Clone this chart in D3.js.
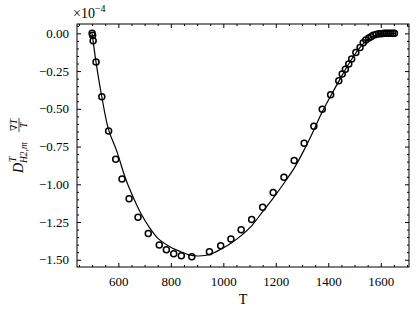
<!DOCTYPE html>
<html>
<head>
<meta charset="utf-8">
<script src="https://cdn.jsdelivr.net/npm/d3@7"></script>
<style>
  body { margin: 0; background: #fff; }
  text { font-family: "Liberation Serif", "DejaVu Serif", serif; fill: #000; }
</style>
</head>
<body>
<div id="chart"></div>
<script>
// simulation points (T, value in 1e-4)
var pointT = [500, 502, 504, 515, 537, 563, 590, 614, 641, 675, 714, 756, 783, 811, 840, 880,
  947, 990, 1029, 1068, 1108, 1150, 1190, 1231, 1270, 1308, 1345, 1377, 1409, 1440, 1453, 1465,
  1478, 1489, 1505, 1521, 1533, 1543, 1554, 1563, 1571, 1582, 1592, 1600, 1608, 1615, 1622,
  1630, 1637, 1645, 1652];
var pointV = [0.00, -0.012, -0.049, -0.19, -0.42, -0.647, -0.834, -0.965, -1.095, -1.218, -1.326,
  -1.403, -1.434, -1.461, -1.474, -1.480, -1.447, -1.408, -1.363, -1.302, -1.233, -1.152, -1.055,
  -0.953, -0.843, -0.728, -0.615, -0.503, -0.406, -0.314, -0.269, -0.238, -0.203, -0.170, -0.126,
  -0.093, -0.062, -0.044, -0.031, -0.022, -0.013, -0.007, -0.003, -0.002, -0.001, 0.0, 0.0,
  0.0, 0.0, 0.0, 0.0];

// model curve
var curveT = [500, 515, 537, 563, 594, 625, 650, 685, 720, 752, 803, 836, 870, 900, 930, 960,
  990, 1029, 1068, 1108, 1150, 1190, 1231, 1270, 1308, 1345, 1377, 1409, 1440, 1477, 1520,
  1553, 1590, 1620, 1655];
var curveV = [0.0, -0.19, -0.42, -0.64, -0.78, -0.95, -1.06, -1.19, -1.29, -1.36, -1.42, -1.445,
  -1.468, -1.475, -1.472, -1.457, -1.43, -1.39, -1.34, -1.275, -1.181, -1.092, -0.993, -0.893,
  -0.772, -0.64, -0.52, -0.415, -0.318, -0.205, -0.095, -0.035, -0.006, -0.001, 0.0];

var xTicks = [600, 800, 1000, 1200, 1400, 1600];
var yTicks = [0.00, -0.25, -0.50, -0.75, -1.00, -1.25, -1.50];

var W = 416, H = 314;
var pLeft = 77, pRight = 409, pTop = 24, pBottom = 267;

var svg = d3.select("#chart").append("svg")
  .attr("width", W).attr("height", H);

var x = d3.scaleLinear().domain([442.5, 1707.5]).range([pLeft, pRight]);
var y = d3.scaleLinear().domain([-1.548, 0.062]).range([pBottom, pTop]);

var xMinor = d3.range(450, 1701, 50).filter(function(d){ return xTicks.indexOf(d) < 0; });
var yMinor = d3.range(-30, 2).map(function(i){ return Math.round(i * 5) / 100; })
  .filter(function(d){ return yTicks.indexOf(d) < 0 && d >= -1.548 && d <= 0.062; });

var fmtMinus = function(d){ return d3.format(".2f")(d).replace("-", "\u2212"); };

var noDomain = function(g){ g.select(".domain").remove(); };

// bottom axis (ticks inward)
svg.append("g").attr("transform", "translate(0," + pBottom + ")")
  .call(d3.axisBottom(x).tickValues(xTicks).tickSizeInner(-4).tickSizeOuter(0).tickPadding(10).tickFormat(d3.format("d")))
  .call(noDomain);
svg.append("g").attr("transform", "translate(0," + pBottom + ")")
  .call(d3.axisBottom(x).tickValues(xMinor).tickSize(-2).tickFormat(""))
  .call(noDomain);
// top axis
svg.append("g").attr("transform", "translate(0," + pTop + ")")
  .call(d3.axisTop(x).tickValues(xTicks).tickSize(-4).tickFormat(""))
  .call(noDomain);
svg.append("g").attr("transform", "translate(0," + pTop + ")")
  .call(d3.axisTop(x).tickValues(xMinor).tickSize(-2).tickFormat(""))
  .call(noDomain);
// left axis
svg.append("g").attr("transform", "translate(" + pLeft + ",0)")
  .call(d3.axisLeft(y).tickValues(yTicks).tickSizeInner(-4).tickSizeOuter(0).tickPadding(8).tickFormat(fmtMinus))
  .call(noDomain);
svg.append("g").attr("transform", "translate(" + pLeft + ",0)")
  .call(d3.axisLeft(y).tickValues(yMinor).tickSize(-2).tickFormat(""))
  .call(noDomain);
// right axis
svg.append("g").attr("transform", "translate(" + pRight + ",0)")
  .call(d3.axisRight(y).tickValues(yTicks).tickSize(-4).tickFormat(""))
  .call(noDomain);
svg.append("g").attr("transform", "translate(" + pRight + ",0)")
  .call(d3.axisRight(y).tickValues(yMinor).tickSize(-2).tickFormat(""))
  .call(noDomain);

svg.selectAll(".tick text")
  .style("font-family", "'Liberation Serif', serif")
  .style("font-size", "13px");

// frame
svg.append("rect")
  .attr("x", pLeft).attr("y", pTop)
  .attr("width", pRight - pLeft).attr("height", pBottom - pTop)
  .attr("fill", "none").attr("stroke", "#000").attr("stroke-width", 1);

// curve
var line = d3.line()
  .x(function(d){ return x(d[0]); })
  .y(function(d){ return y(d[1]); })
  .curve(d3.curveCatmullRom);

svg.append("path")
  .datum(d3.zip(curveT, curveV))
  .attr("d", line)
  .attr("fill", "none").attr("stroke", "#000").attr("stroke-width", 1.2);

// points
svg.selectAll("circle.pt")
  .data(d3.zip(pointT, pointV))
  .enter()
  .append("circle")
  .attr("class", "pt")
  .attr("cx", function(d){ return x(d[0]); })
  .attr("cy", function(d){ return y(d[1]); })
  .attr("r", 3)
  .attr("fill", "none").attr("stroke", "#000").attr("stroke-width", 1.5);

// offset text
var off = svg.append("text").attr("x", pLeft - 4).attr("y", 18).style("font-size", "14px");
off.append("tspan").text("\u00d710");
off.append("tspan").attr("dy", -6).style("font-size", "10px").text("\u22124");

// x label
svg.append("text").attr("x", (pLeft + pRight) / 2).attr("y", 304)
  .attr("text-anchor", "middle").style("font-size", "14px").text("T");

// y label
var yl = svg.append("g").attr("transform", "translate(23,173) rotate(-90)");
yl.append("text").attr("x", 0).attr("y", 0)
  .style("font-size", "14px").style("font-style", "italic").text("D");
yl.append("text").attr("x", 11).attr("y", -7)
  .style("font-size", "9.5px").style("font-style", "italic").text("T");
yl.append("text").attr("x", 10).attr("y", 4)
  .style("font-size", "9.5px").style("font-style", "italic").text("H2,m");
yl.append("text").attr("x", 48).attr("y", -6).attr("text-anchor", "middle")
  .style("font-size", "9.5px").style("font-style", "italic").text("\u2207T");
yl.append("line").attr("x1", 41).attr("x2", 55).attr("y1", -4).attr("y2", -4)
  .attr("stroke", "#000").attr("stroke-width", 0.7);
yl.append("text").attr("x", 48).attr("y", 4).attr("text-anchor", "middle")
  .style("font-size", "9.5px").style("font-style", "italic").text("T");
</script>
</body>
</html>
